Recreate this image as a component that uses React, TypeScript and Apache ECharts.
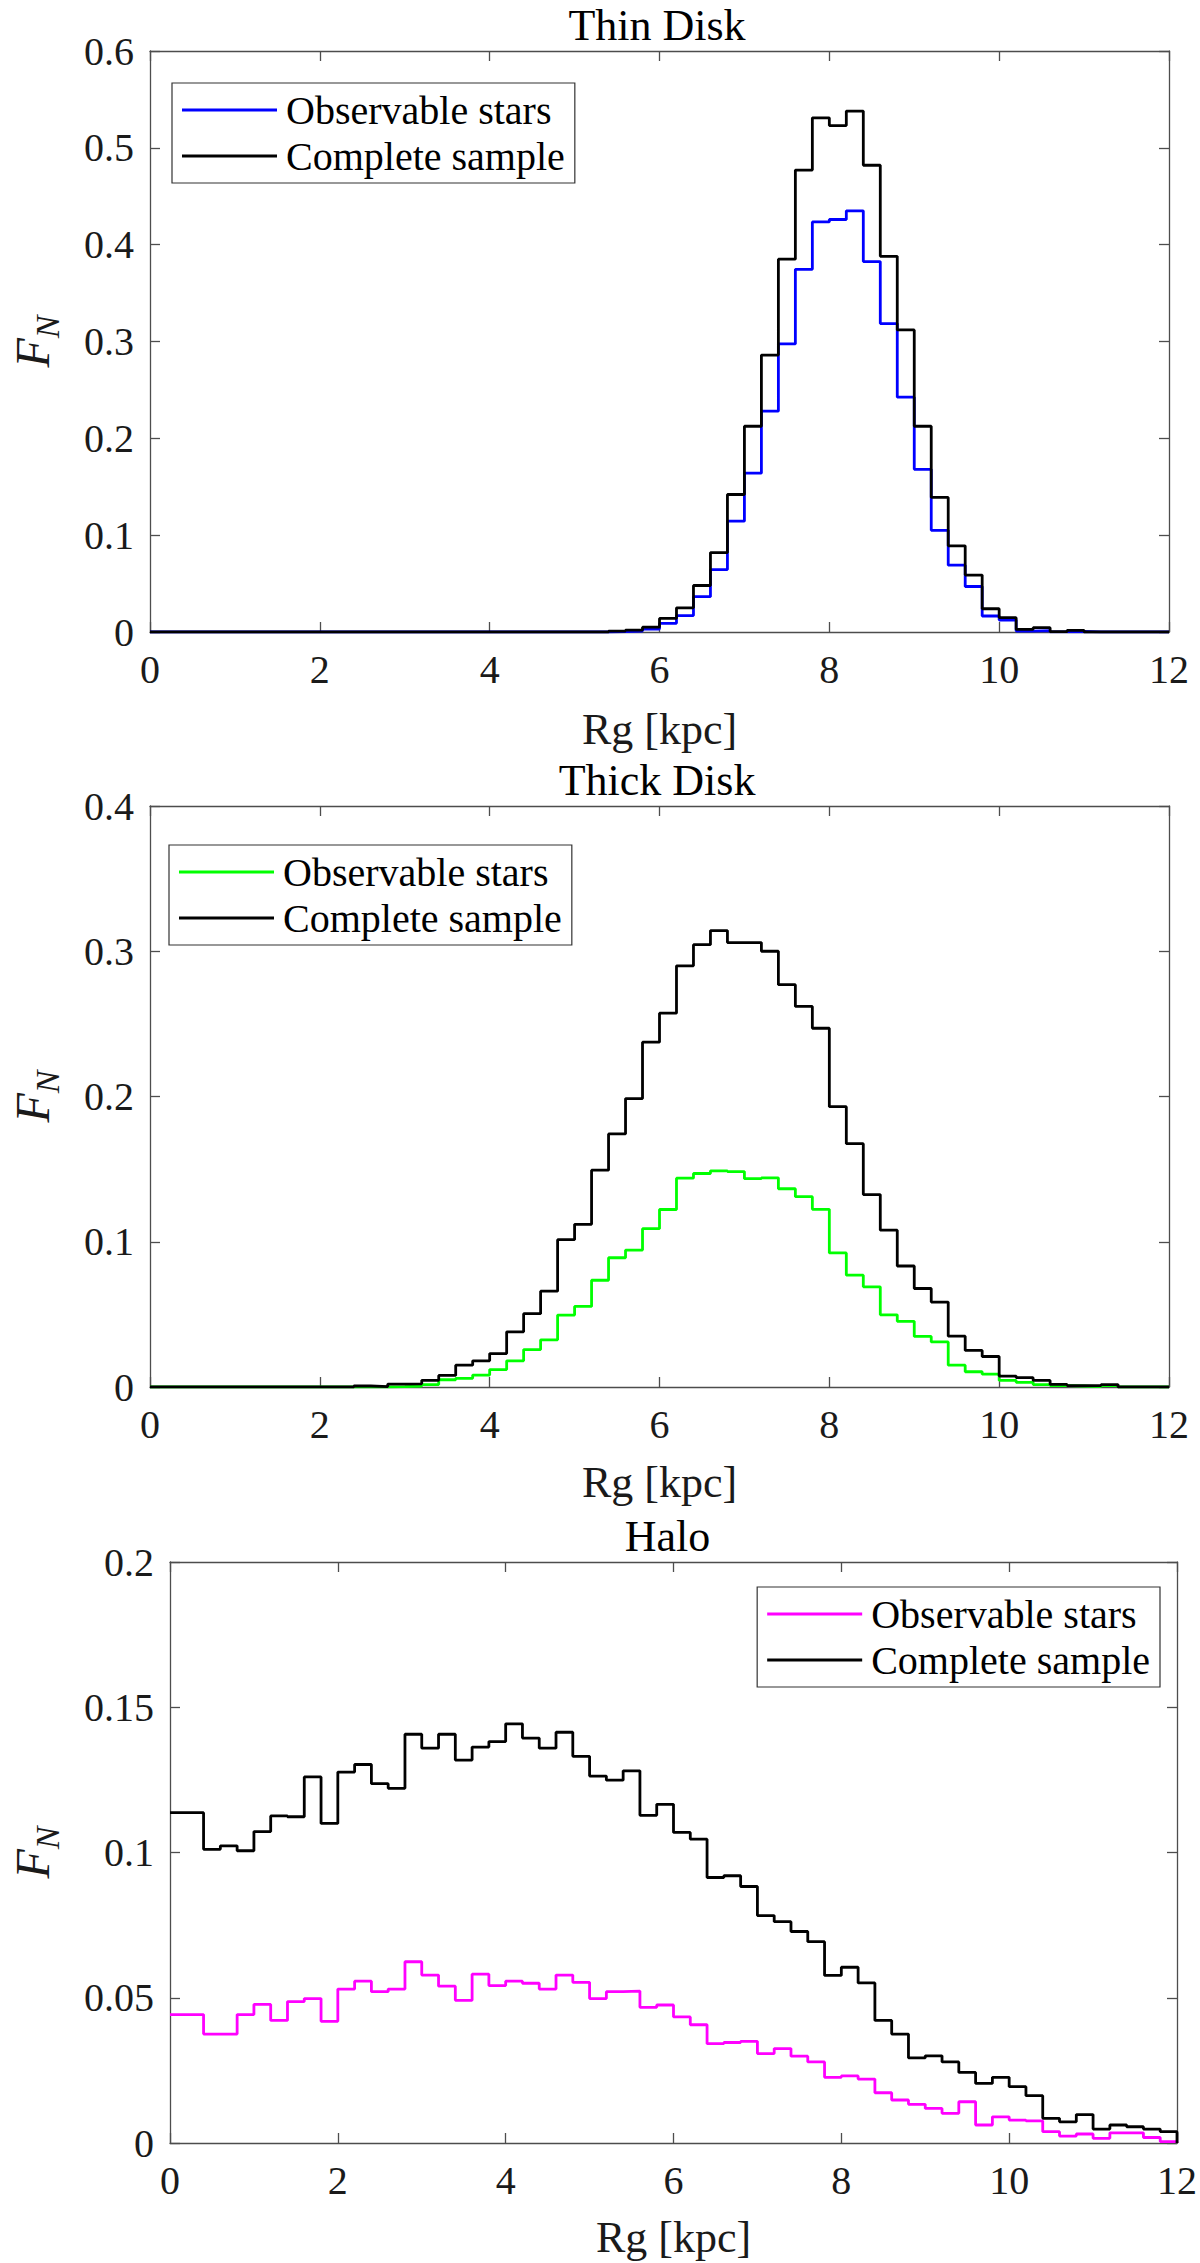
import React, { useEffect, useRef } from "react";
import * as echarts from "echarts";

// ---------- data (F_N per 0.2 kpc bin, bins start at 0, 0.2, ..., 11.8) ----------
const RG_MIN = 0;
const RG_MAX = 12;
const BIN_WIDTH = 0.2;

const thinObservable = [
  0, 0, 0, 0, 0, 0, 0, 0, 0, 0,
  0, 0, 0, 0, 0, 0, 0, 0, 0, 0,
  0, 0, 0, 0, 0, 0, 0, 0.0005, 0.001, 0.003,
  0.009, 0.017, 0.0365, 0.0645, 0.1145, 0.164, 0.228, 0.2975, 0.3745, 0.4235,
  0.426, 0.435, 0.3825, 0.3185, 0.2425, 0.168, 0.105, 0.069, 0.047, 0.0165,
  0.0124, 0.001, 0.0015, 0.0002, 0.0005, 0, 0, 0, 0, 0,
];
const thinComplete = [
  0, 0, 0, 0, 0, 0, 0, 0, 0, 0,
  0, 0, 0, 0, 0, 0, 0, 0, 0, 0,
  0, 0, 0, 0, 0, 0, 0, 0.001, 0.002, 0.005,
  0.014, 0.025, 0.048, 0.082, 0.142, 0.2125, 0.286, 0.385, 0.477, 0.531,
  0.523, 0.538, 0.482, 0.388, 0.312, 0.2125, 0.139, 0.089, 0.0588, 0.024,
  0.0148, 0.0027, 0.0045, 0.0003, 0.0017, 0, 0, 0, 0, 0,
];
const thickObservable = [
  0, 0, 0, 0, 0, 0, 0, 0, 0, 0,
  0, 0, 0, 0, 0.0003, 0.0007, 0.0017, 0.005, 0.006, 0.0082,
  0.012, 0.018, 0.0258, 0.0325, 0.0495, 0.0555, 0.0735, 0.089, 0.0943, 0.109,
  0.1222, 0.1438, 0.147, 0.1488, 0.1483, 0.1434, 0.144, 0.1365, 0.131, 0.1223,
  0.0923, 0.077, 0.069, 0.0497, 0.0452, 0.0348, 0.031, 0.015, 0.0105, 0.0088,
  0.0045, 0.0032, 0.0017, 0.001, 0.0007, 0.0003, 0.001, 0, 0, 0,
];
const thickComplete = [
  0, 0, 0, 0, 0, 0, 0, 0, 0, 0,
  0, 0, 0.0007, 0.0003, 0.002, 0.0022, 0.0046, 0.008, 0.015, 0.018,
  0.023, 0.038, 0.0505, 0.066, 0.1014, 0.112, 0.1493, 0.1742, 0.1986, 0.2374,
  0.2574, 0.29, 0.3045, 0.3142, 0.306, 0.306, 0.3, 0.277, 0.262, 0.247,
  0.193, 0.1675, 0.1325, 0.108, 0.0833, 0.0678, 0.0585, 0.035, 0.0252, 0.021,
  0.0075, 0.0064, 0.0045, 0.0018, 0.001, 0.001, 0.0017, 0, 0, 0,
];
const haloObservable = [
  0.0442, 0.0442, 0.0375, 0.0375, 0.0442, 0.0477, 0.0422, 0.0487, 0.0497, 0.0419,
  0.053, 0.0557, 0.0521, 0.053, 0.0624, 0.0578, 0.054, 0.0491, 0.0581, 0.0542,
  0.0557, 0.055, 0.053, 0.0578, 0.0553, 0.0497, 0.0521, 0.0523, 0.0467, 0.0475,
  0.0434, 0.0407, 0.0342, 0.0346, 0.035, 0.0308, 0.0325, 0.0299, 0.0279, 0.0226,
  0.0231, 0.022, 0.0173, 0.0148, 0.0133, 0.0119, 0.0102, 0.0142, 0.0062, 0.009,
  0.0079, 0.0076, 0.0039, 0.0024, 0.0031, 0.0016, 0.0035, 0.0035, 0.0019, 0.0005,
];
const haloComplete = [
  0.1137, 0.1137, 0.1011, 0.1023, 0.1006, 0.1072, 0.1126, 0.1123, 0.126, 0.11,
  0.1277, 0.1303, 0.1237, 0.1221, 0.1407, 0.1359, 0.1407, 0.1318, 0.1363, 0.1382,
  0.1443, 0.1394, 0.1359, 0.1414, 0.1331, 0.1263, 0.1249, 0.1281, 0.1128, 0.1166,
  0.1069, 0.1046, 0.0914, 0.092, 0.0883, 0.0783, 0.0762, 0.0728, 0.0693, 0.0577,
  0.0605, 0.0551, 0.0422, 0.0375, 0.0293, 0.03, 0.0279, 0.0243, 0.0205, 0.0226,
  0.0194, 0.0163, 0.0085, 0.0073, 0.0098, 0.0048, 0.0062, 0.0056, 0.0048, 0.0039,
];

const PANEL_TITLES = ["Thin Disk", "Thick Disk", "Halo"];
const LEGEND_LABELS = ["Observable stars", "Complete sample"];
const X_LABEL = "Rg [kpc]";
const X_TICK_STEP = 2;
const Y_MAX = [0.6, 0.4, 0.2];
const Y_STEP = [0.1, 0.1, 0.05];
const OBS_COLORS = ["#0000ff", "#00ff00", "#ff00ff"];
const COMPLETE_COLOR = "#000000";

// ---------- layout / style ----------
const FONT = "Liberation Serif, Times New Roman, serif";
const AXIS_COLOR = "#4d4d4d";
const TEXT_COLOR = "#1a1a1a";

const LAYOUT = [
  { grid: { left: 135, top: 51, width: 1034, height: 581 }, legend: { left: 172, top: 83 }, yNameGap: 86, xNameGap: 75 },
  { grid: { left: 135, top: 806, width: 1034, height: 581 }, legend: { left: 169, top: 845 }, yNameGap: 86, xNameGap: 73 },
  { grid: { left: 146, top: 1562, width: 1033, height: 581 }, legend: { right: 40, top: 1587 }, yNameGap: 106, xNameGap: 72 },
];

function stairs(values: number[]): [number, number][] {
  const pts: [number, number][] = [];
  values.forEach((v, i) => pts.push([RG_MIN + i * BIN_WIDTH, v]));
  pts.push([RG_MAX, values[values.length - 1]]);
  pts.push([RG_MAX, 0]);
  return pts;
}

function buildOption() {
  const obsSets = [thinObservable, thickObservable, haloObservable];
  const compSets = [thinComplete, thickComplete, haloComplete];

  const grid: any[] = [];
  const xAxis: any[] = [];
  const yAxis: any[] = [];
  const series: any[] = [];
  const legend: any[] = [];
  const title: any[] = [];

  const tickCommon = {
    show: true,
    inside: true,
    length: 10,
    lineStyle: { color: AXIS_COLOR, width: 1.3 },
  };
  const lineCommon = { show: true, onZero: false, lineStyle: { color: AXIS_COLOR, width: 1.3 } };
  const tickLabel = {
    fontFamily: FONT,
    fontSize: 40,
    fontWeight: "normal",
    fontStyle: "normal",
    color: TEXT_COLOR,
  };

  for (let p = 0; p < 3; p++) {
    const L = LAYOUT[p];
    grid.push({ ...L.grid, containLabel: false });

    title.push({
      text: PANEL_TITLES[p],
      left: L.grid.left + L.grid.width / 2,
      top: L.grid.top - 31,
      textAlign: "center",
      textVerticalAlign: "middle",
      textStyle: { fontFamily: FONT, fontSize: 44, fontWeight: "normal", color: "#000" },
    });

    const xBase = {
      type: "value",
      gridIndex: p,
      min: RG_MIN,
      max: RG_MAX,
      interval: X_TICK_STEP,
      splitLine: { show: false },
      axisLine: lineCommon,
      axisTick: tickCommon,
    };
    xAxis.push({
      ...xBase,
      position: "bottom",
      axisLabel: { ...tickLabel, margin: 17 },
      name: X_LABEL,
      nameLocation: "middle",
      nameGap: L.xNameGap,
      nameTextStyle: { fontFamily: FONT, fontSize: 44, color: TEXT_COLOR },
    });
    xAxis.push({ ...xBase, position: "top", axisLabel: { show: false } });

    const yBase = {
      type: "value",
      gridIndex: p,
      min: 0,
      max: Y_MAX[p],
      interval: Y_STEP[p],
      splitLine: { show: false },
      axisLine: lineCommon,
      axisTick: tickCommon,
    };
    yAxis.push({
      ...yBase,
      position: "left",
      axisLabel: { ...tickLabel, margin: 16 },
      name: "{f|F}{n|N}",
      nameLocation: "middle",
      nameRotate: 90,
      nameGap: L.yNameGap,
      nameTextStyle: {
        color: TEXT_COLOR,
        fontFamily: FONT,
        rich: {
          f: { fontFamily: FONT, fontStyle: "italic", fontSize: 48, color: TEXT_COLOR, padding: [0, 0, 8, 0] },
          n: { fontFamily: FONT, fontStyle: "italic", fontSize: 34, color: TEXT_COLOR, verticalAlign: "bottom" },
        },
      },
    });
    yAxis.push({ ...yBase, position: "right", axisLabel: { show: false } });

    const obsName = LEGEND_LABELS[0] + "#" + p;
    const compName = LEGEND_LABELS[1] + "#" + p;
    series.push({
      name: obsName,
      type: "line",
      xAxisIndex: p * 2,
      yAxisIndex: p * 2,
      step: "end",
      symbol: "none",
      data: stairs(obsSets[p]),
      itemStyle: { color: OBS_COLORS[p] },
      lineStyle: { color: OBS_COLORS[p], width: 2.8 },
    });
    series.push({
      name: compName,
      type: "line",
      xAxisIndex: p * 2,
      yAxisIndex: p * 2,
      step: "end",
      symbol: "none",
      data: stairs(compSets[p]),
      itemStyle: { color: COMPLETE_COLOR },
      lineStyle: { color: COMPLETE_COLOR, width: 2.8 },
    });

    legend.push({
      ...L.legend,
      orient: "vertical",
      data: [obsName, compName],
      formatter: (name: string) => name.split("#")[0],
      icon: "rect",
      itemWidth: 95,
      itemHeight: 3,
      itemGap: 6,
      padding: [7, 10, 7, 10],
      borderColor: "#333",
      borderWidth: 1.2,
      backgroundColor: "#fff",
      selectedMode: false,
      textStyle: { fontFamily: FONT, fontSize: 40, color: "#000", padding: [0, 0, 0, 4] },
    });
  }

  return {
    animation: false,
    backgroundColor: "#ffffff",
    textStyle: { fontFamily: FONT },
    title,
    grid,
    xAxis,
    yAxis,
    legend,
    series,
  };
}

export default function App() {
  const ref = useRef<HTMLDivElement>(null);
  useEffect(() => {
    if (!ref.current) return;
    const chart = echarts.init(ref.current, undefined, { renderer: "svg" });
    chart.setOption(buildOption() as any);
    return () => chart.dispose();
  }, []);
  return (
    <div
      ref={ref}
      style={{ position: "absolute", left: 0, top: 0, width: 1200, height: 2263, background: "#fff" }}
    />
  );
}
